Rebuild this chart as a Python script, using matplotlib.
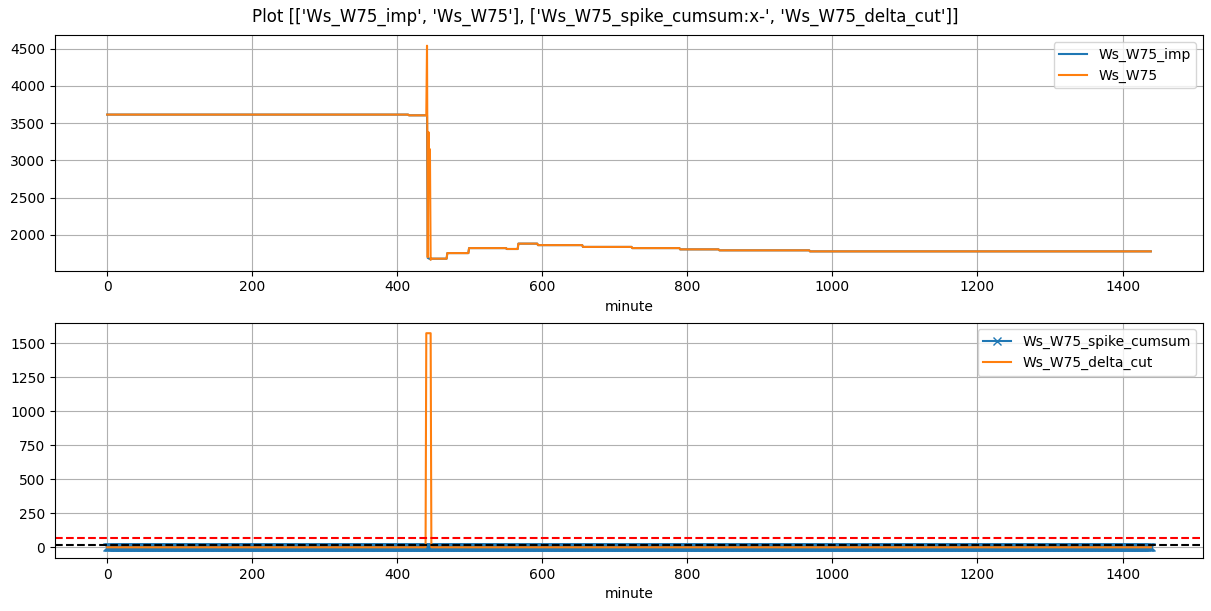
import matplotlib

matplotlib.use("Agg")

import matplotlib.pyplot as plt
import numpy as np
import pandas as pd

N_MINUTES = 1440

# step levels of Ws_W75 (start minute, level)
STEP_STARTS = [0, 416, 447, 469, 499, 551, 567, 594, 656, 724, 790, 844, 969]
STEP_LEVELS = [3615, 3605, 1680, 1755, 1822, 1810, 1882, 1862, 1838, 1822, 1805, 1792, 1778]

# raw spike values around minute 441
SPIKE_MINUTES = [441, 442, 443, 444, 445, 446]
SPIKE_VALUES = [4540, 1700, 3380, 2750, 3150, 1665]
IMP_SPIKE_VALUES = [3605, 1690, 1685, 1680, 1680, 1670]

# delta_cut spike in the bottom panel
DELTA_MINUTES = [440, 441, 442, 443, 444, 445, 446]
DELTA_VALUES = [1575, 1575, 1575, 1575, 1575, 1575, 1575]

UPPER_THRESHOLD = 70
LOWER_THRESHOLD = 20

TITLE = "Plot [['Ws_W75_imp', 'Ws_W75'], ['Ws_W75_spike_cumsum:x-', 'Ws_W75_delta_cut']]"


def build_frame() -> pd.DataFrame:
    lengths = np.diff(STEP_STARTS + [N_MINUTES])
    base = np.repeat(np.array(STEP_LEVELS, dtype=float), lengths)

    raw = base.copy()
    raw[SPIKE_MINUTES] = SPIKE_VALUES

    imp = base.copy()
    imp[SPIKE_MINUTES] = IMP_SPIKE_VALUES

    delta_cut = np.zeros(N_MINUTES)
    delta_cut[DELTA_MINUTES] = DELTA_VALUES

    df = pd.DataFrame(
        {
            "Ws_W75_imp": imp,
            "Ws_W75": raw,
            "Ws_W75_spike_cumsum": np.zeros(N_MINUTES),
            "Ws_W75_delta_cut": delta_cut,
        },
        index=pd.Index(np.arange(N_MINUTES), name="minute"),
    )
    return df


def main():
    df = build_frame()

    W, H = 1211, 611
    fig, axes = plt.subplots(2, 1, figsize=(W / 100, H / 100), dpi=100)
    # match the reference panel placement
    fig.subplots_adjust(
        left=55 / W, right=1203 / W, top=1 - 35 / H, bottom=1 - 558 / H, hspace=52 / 235.5
    )

    ax = axes[0]
    ax.plot(df.index, df["Ws_W75_imp"], label="Ws_W75_imp")
    ax.plot(df.index, df["Ws_W75"], label="Ws_W75")
    ax.set_xlabel("minute")
    ax.grid(True)
    ax.legend(loc="upper right")

    ax = axes[1]
    ax.plot(df.index, df["Ws_W75_spike_cumsum"], "x-", label="Ws_W75_spike_cumsum")
    ax.plot(df.index, df["Ws_W75_delta_cut"], label="Ws_W75_delta_cut")
    ax.axhline(UPPER_THRESHOLD, color="red", linestyle="--")
    ax.axhline(LOWER_THRESHOLD, color="black", linestyle="--")
    ax.set_xlabel("minute")
    ax.grid(True)
    ax.legend(loc="upper right")

    fig.suptitle(TITLE, y=1 - 17 / H, va="center")
    fig.savefig("out.png", dpi=100)
    plt.close(fig)


if __name__ == "__main__":
    main()
